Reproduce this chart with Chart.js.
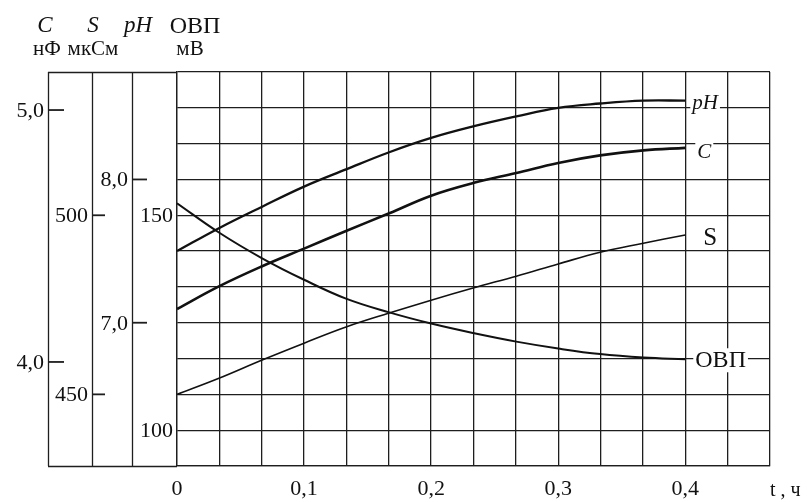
<!DOCTYPE html>
<html><head><meta charset="utf-8">
<script src="https://cdn.jsdelivr.net/npm/chart.js@4.4.1/dist/chart.umd.min.js"></script>
<style>html,body{margin:0;padding:0;background:#fff}#wrap{width:807px;height:502px;position:relative}</style>
</head><body><div id="wrap"><canvas id="c" width="807" height="502"></canvas></div>
<script>
// time, hours
const tHours = [0, 0.033, 0.067, 0.1, 0.133, 0.167, 0.2, 0.233, 0.267, 0.3, 0.333, 0.367, 0.4];
// series
const phValues  = [7.50, 7.66, 7.81, 7.95, 8.07, 8.19, 8.29, 8.37, 8.44, 8.50, 8.53, 8.55, 8.55];
const cValues   = [4.21, 4.30, 4.38, 4.45, 4.52, 4.59, 4.66, 4.71, 4.75, 4.79, 4.82, 4.84, 4.85];
const sValues   = [450, 454.5, 459.6, 464.3, 468.8, 472.7, 476.3, 479.7, 483, 486.4, 489.7, 492.2, 494.5];
const ovpValues = [152.8, 146.0, 140.0, 135.0, 130.6, 127.4, 124.8, 122.6, 120.6, 119.0, 117.7, 116.9, 116.5];
// tick labels
const xTickLabels = ['0', '0,1', '0,2', '0,3', '0,4'];
const cTickValues = [5.0, 4.0];       const cTickLabels = ['5,0', '4,0'];
const sTickValues = [500, 450];       const sTickLabels = ['500', '450'];
const phTickValues = [8.0, 7.0];      const phTickLabels = ['8,0', '7,0'];
const ovpTickValues = [150, 100];     const ovpTickLabels = ['150', '100'];

const SERIF = '"Liberation Serif", "DejaVu Serif", serif';
const INK = '#111';
const GRID = '#1e1e1e';

const toPts = (vals) => vals.map((v, i) => ({x: tHours[i], y: v}));

const extras = {
  id: 'extras',
  afterDraw(chart) {
    const ctx = chart.ctx;
    const a = chart.chartArea;
    const sc = chart.scales;
    ctx.save();
    ctx.strokeStyle = GRID;
    ctx.lineWidth = 1.3;
    // left axis columns
    const axisXs = [48, 92, 132];
    ctx.beginPath();
    axisXs.forEach(x => { ctx.moveTo(x + 0.5, a.top); ctx.lineTo(x + 0.5, a.bottom); });
    ctx.moveTo(axisXs[0], a.top + 0.5); ctx.lineTo(a.left, a.top + 0.5);
    ctx.moveTo(axisXs[0], a.bottom + 0.5); ctx.lineTo(a.left, a.bottom + 0.5);
    ctx.stroke();

    ctx.fillStyle = INK;
    ctx.textAlign = 'right';
    ctx.textBaseline = 'alphabetic';
    ctx.font = '22px ' + SERIF;
    const axisDefs = [
      {scale: sc.yC, vals: cTickValues, labs: cTickLabels, lineX: 48, tick: 16},
      {scale: sc.yS, vals: sTickValues, labs: sTickLabels, lineX: 92, tick: 13},
      {scale: sc.yPH, vals: phTickValues, labs: phTickLabels, lineX: 132, tick: 15},
      {scale: sc.yOVP, vals: ovpTickValues, labs: ovpTickLabels, lineX: a.left, tick: 0}
    ];
    axisDefs.forEach(d => {
      d.vals.forEach((v, i) => {
        const y = d.scale.getPixelForValue(v);
        if (d.tick) {
          ctx.lineWidth = 1.8;
          ctx.beginPath();
          ctx.moveTo(d.lineX, y); ctx.lineTo(d.lineX + d.tick, y);
          ctx.stroke();
        }
        ctx.fillText(d.labs[i], d.lineX - 4, y + 7);
      });
    });

    // headers
    ctx.textAlign = 'center';
    ctx.font = 'italic 23px ' + SERIF;
    ctx.fillText('C', 45, 32);
    ctx.fillText('S', 93, 32);
    ctx.fillText('pH', 138, 32);
    ctx.font = '24px ' + SERIF;
    ctx.fillText('ОВП', 195, 33);
    ctx.font = '21px ' + SERIF;
    ctx.fillText('нФ', 47, 55);
    ctx.fillText('мкСм', 93, 55);
    ctx.fillText('мВ', 190, 55);

    // series end labels
    const xEnd = sc.x.getPixelForValue(tHours[tHours.length - 1]);
    const endLabels = [
      {text: 'pH', font: 'italic 21px ' + SERIF, scale: sc.yPH, val: phValues[phValues.length - 1], dx: 7, dy: 8},
      {text: 'C', font: 'italic 21px ' + SERIF, scale: sc.yC, val: cValues[cValues.length - 1], dx: 12, dy: 10},
      {text: 'S', font: '25px ' + SERIF, scale: sc.yS, val: sValues[sValues.length - 1], dx: 18, dy: 10},
      {text: 'ОВП', font: '24px ' + SERIF, scale: sc.yOVP, val: ovpValues[ovpValues.length - 1], dx: 10, dy: 8}
    ];
    ctx.textAlign = 'left';
    endLabels.forEach(l => {
      const y = l.scale.getPixelForValue(l.val);
      ctx.font = l.font;
      const w = ctx.measureText(l.text).width;
      const bx = xEnd + l.dx;
      ctx.fillStyle = '#fff';
      ctx.fillRect(bx - 2, y + l.dy - 19, w + 4, 24);
      ctx.fillStyle = INK;
      ctx.fillText(l.text, bx, y + l.dy);
    });

    // x axis title
    ctx.font = '20px ' + SERIF;
    ctx.fillText('t , ч', 770, 496);
    ctx.restore();
  }
};

const ds = (label, vals, axis, width) => ({
  label, data: toPts(vals), yAxisID: axis,
  borderColor: INK, borderWidth: width, pointRadius: 0,
  tension: 0.4, fill: false
});

new Chart(document.getElementById('c'), {
  type: 'line',
  data: {
    datasets: [
      ds('pH', phValues, 'yPH', 2.3),
      ds('C', cValues, 'yC', 2.6),
      ds('S', sValues, 'yS', 1.6),
      ds('ОВП', ovpValues, 'yOVP', 2.0)
    ]
  },
  options: {
    responsive: false,
    animation: false,
    events: [],
    layout: {padding: {left: 177, top: 72, right: 37, bottom: 0}},
    plugins: {legend: {display: false}, tooltip: {enabled: false}},
    scales: {
      x: {
        type: 'linear', min: 0, max: 14 / 30,
        afterBuildTicks: (s) => { s.ticks = Array.from({length: 15}, (_, k) => ({value: k / 30})); },
        afterFit: (s) => { s.height = 36; },
        grid: {color: GRID, lineWidth: 1.3, drawTicks: false},
        border: {display: true, color: GRID, width: 1.3},
        ticks: {
          autoSkip: false, maxRotation: 0, padding: 10, color: INK,
          font: {family: SERIF, size: 22},
          callback: (v) => { const k = Math.round(v * 30); return k % 3 === 0 && k <= 12 ? xTickLabels[k / 3] : ''; }
        }
      },
      yOVP: {
        type: 'linear', position: 'left', min: 100 - 50 / 6, max: 150 + 200 / 6,
        afterBuildTicks: (s) => { s.ticks = Array.from({length: 12}, (_, k) => ({value: 100 - 50 / 6 + k * 50 / 6})); },
        afterFit: (s) => { s.width = 0; },
        grid: {color: GRID, lineWidth: 1.3, drawTicks: false},
        border: {display: true, color: GRID, width: 1.3},
        ticks: {display: false}
      },
      yPH: {type: 'linear', display: false, min: 6.0, max: 8.75},
      yC:  {type: 'linear', display: false, min: 3.587, max: 5.151},
      yS:  {type: 'linear', display: false, min: 430, max: 540}
    }
  },
  plugins: [extras]
});
</script>
</body></html>
